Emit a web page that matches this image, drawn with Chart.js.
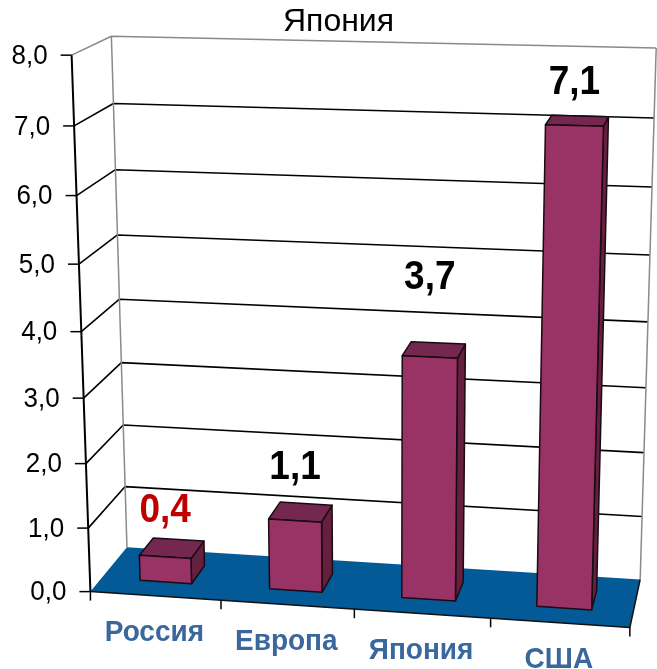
<!DOCTYPE html>
<html>
<head>
<meta charset="utf-8">
<script src="https://cdn.jsdelivr.net/npm/chart.js@4.4.1/dist/chart.umd.min.js"></script>
<style>
  html, body { margin: 0; padding: 0; background: #ffffff; }
  #wrap { width: 657px; height: 669px; position: relative; }
</style>
</head>
<body>
<div id="wrap"><canvas id="chart" width="657" height="669"></canvas></div>
<script>
// ---- data ----
const chartTitle = 'Япония';
const categories = ['Россия', 'Европа', 'Япония', 'США'];
const values = [0.4, 1.1, 3.7, 7.1];
const valueLabels = ['0,4', '1,1', '3,7', '7,1'];
const valueLabelColors = ['#c00000', '#000000', '#000000', '#000000'];
const axisMin = 0;
const axisMax = 8;
const axisStep = 1;

// ---- look ----
const FONT = '"Liberation Sans", Arial, sans-serif';
const faceColors = { front: '#993366', top: '#74284f', side: '#66203f' };
const floorColor = '#035a96';
const categoryColor = '#3a689c';
const barDepth = [0.3, 0.7];          // bar front / back within the floor depth
const labelLift = [46, 53, 79, 43];    // value label distance above the bar's front top edge

// Oblique view of the unit box (X across, Y up, Z into the page) onto the canvas:
// [X, Y, Z, canvasX, canvasY] anchors of the box frame, fitted to one projective camera.
const boxAnchors = [
  [0, 0, 0, 90, 591], [1, 0, 0, 630, 628], [0, 0, 1, 127, 548], [1, 0, 1, 640, 579],
  [0, 1, 0, 72, 55], [0, 1, 1, 112, 36], [1, 1, 1, 656, 48],
  [0, 0.875, 0, 73, 126.5], [0, 0.625, 0, 79, 264], [0, 0.5, 0, 82, 332],
  [0, 0.25, 0, 86, 464], [0, 0.125, 0, 88, 528],
  [0, 0.875, 1, 113, 103], [0, 0.625, 1, 118, 235], [0, 0.375, 1, 121, 363],
  [0.25, 0, 0, 221, 599], [0.75, 0, 0, 491, 619], [1, 0.875, 1, 654, 118]
];

function fitCamera(pts) {
  const rows = [], rhs = [];
  for (const [X, Y, Z, x, y] of pts) {
    rows.push([X, Y, Z, 1, 0, 0, 0, 0, -x * X, -x * Y, -x * Z]); rhs.push(x);
    rows.push([0, 0, 0, 0, X, Y, Z, 1, -y * X, -y * Y, -y * Z]); rhs.push(y);
  }
  const n = 11;
  const M = Array.from({ length: n }, () => new Array(n + 1).fill(0));
  rows.forEach((r, k) => {
    for (let i = 0; i < n; i++) {
      for (let j = 0; j < n; j++) M[i][j] += r[i] * r[j];
      M[i][n] += r[i] * rhs[k];
    }
  });
  for (let c = 0; c < n; c++) {
    let p = c;
    for (let r = c + 1; r < n; r++) if (Math.abs(M[r][c]) > Math.abs(M[p][c])) p = r;
    [M[c], M[p]] = [M[p], M[c]];
    for (let r = 0; r < n; r++) {
      if (r === c) continue;
      const f = M[r][c] / M[c][c];
      for (let j = c; j <= n; j++) M[r][j] -= f * M[c][j];
    }
  }
  return M.map((r, i) => r[n] / r[i]);
}
const cam = fitCamera(boxAnchors);
function project(X, Y, Z) {
  const w = cam[8] * X + cam[9] * Y + cam[10] * Z + 1;
  return [(cam[0] * X + cam[1] * Y + cam[2] * Z + cam[3]) / w,
          (cam[4] * X + cam[5] * Y + cam[6] * Z + cam[7]) / w];
}

function poly(ctx, pts, fill, stroke, lw) {
  ctx.beginPath();
  pts.forEach((p, i) => i ? ctx.lineTo(p[0], p[1]) : ctx.moveTo(p[0], p[1]));
  ctx.closePath();
  if (fill) { ctx.fillStyle = fill; ctx.fill(); }
  if (stroke) { ctx.strokeStyle = stroke; ctx.lineWidth = lw; ctx.stroke(); }
}
function line(ctx, pts, color, lw) {
  ctx.beginPath();
  pts.forEach((p, i) => i ? ctx.lineTo(p[0], p[1]) : ctx.moveTo(p[0], p[1]));
  ctx.strokeStyle = color; ctx.lineWidth = lw; ctx.stroke();
}
// text slightly taller than wide, centred vertically on y
function tallText(ctx, text, x, y, stretch) {
  ctx.save();
  ctx.translate(x, y);
  ctx.scale(1, stretch);
  ctx.fillText(text, 0, 0);
  ctx.restore();
}

const perspectiveBars = {
  id: 'perspectiveBars',
  afterDatasetsDraw(chart) {
    const ctx = chart.ctx;
    const area = chart.chartArea;
    const xs = chart.scales.x, ys = chart.scales.y;
    const nx = px => (px - area.left) / (area.right - area.left);
    const ny = py => (area.bottom - py) / (area.bottom - area.top);
    ctx.save();
    ctx.lineJoin = 'round';
    ctx.lineCap = 'butt';

    // walls: gridlines along the left side wall and across the back wall
    const ticks = ys.ticks.map(t => t.value);
    ticks.forEach(v => {
      const Y = ny(ys.getPixelForValue(v));
      if (v === axisMin) return;
      const top = v === axisMax;
      line(ctx, [project(0, Y, 0), project(0, Y, 1), project(1, Y, 1)],
           top ? '#8a8a8a' : '#000000', top ? 1.5 : 1.6);
    });
    line(ctx, [project(0, 0, 1), project(0, 1, 1)], '#8a8a8a', 1.5);
    line(ctx, [project(1, 0, 1), project(1, 1, 1)], '#8a8a8a', 1.5);

    // floor
    poly(ctx, [project(0, 0, 0), project(1, 0, 0), project(1, 0, 1), project(0, 0, 1)],
         floorColor, null, 0);
    line(ctx, [project(0, 0, 0), project(1, 0, 0), project(1, 0, 1)], '#111111', 1.5);

    // value axis with tick marks and labels
    line(ctx, [project(0, 0, 0), project(0, 1, 0)], '#000000', 2);
    ctx.font = '26px ' + FONT;
    ctx.fillStyle = '#000000';
    ctx.textAlign = 'right';
    ctx.textBaseline = 'middle';
    ticks.forEach(v => {
      const [ax, ay] = project(0, ny(ys.getPixelForValue(v)), 0);
      line(ctx, [[ax - 11, ay], [ax, ay]], '#000000', 1.5);
      tallText(ctx, v.toFixed(1).replace('.', ','), ax - 24, ay + 1, 1.08);
    });

    // category axis: tick marks at category boundaries and labels
    const n = categories.length;
    const step = xs.getPixelForValue(1) - xs.getPixelForValue(0);
    for (let i = 0; i <= n; i++) {
      const edge = xs.getPixelForValue(0) + (i - 0.5) * step;
      const [tx, ty] = project(nx(edge), 0, 0);
      line(ctx, [[tx, ty], [tx, ty + 9]], '#000000', 1.5);
    }
    ctx.font = 'bold 28px ' + FONT;
    ctx.fillStyle = categoryColor;
    ctx.textAlign = 'center';
    categories.forEach((c, i) => {
      const [lx, ly] = project(nx(xs.getPixelForValue(i)), 0, 0);
      tallText(ctx, c, lx - 1, ly + 37, 1.05);
    });

    // bars as boxes: right side, top, front
    const meta = chart.getDatasetMeta(0);
    const [z0, z1] = barDepth;
    meta.data.forEach((bar, i) => {
      const X0 = nx(bar.x - bar.width / 2), X1 = nx(bar.x + bar.width / 2);
      const Yt = ny(bar.y), Yb = ny(bar.base);
      const side = [project(X1, Yb, z0), project(X1, Yb, z1), project(X1, Yt, z1), project(X1, Yt, z0)];
      const top = [project(X0, Yt, z0), project(X1, Yt, z0), project(X1, Yt, z1), project(X0, Yt, z1)];
      const front = [project(X0, Yb, z0), project(X1, Yb, z0), project(X1, Yt, z0), project(X0, Yt, z0)];
      poly(ctx, side, faceColors.side, '#1a0a12', 1.5);
      poly(ctx, top, faceColors.top, '#1a0a12', 1.5);
      poly(ctx, front, faceColors.front, '#1a0a12', 1.5);

      // value label above the bar
      const [fx, fy] = project((X0 + X1) / 2, Yt, z0);
      ctx.font = 'bold 37px ' + FONT;
      ctx.fillStyle = valueLabelColors[i];
      ctx.textAlign = 'center';
      ctx.textBaseline = 'middle';
      tallText(ctx, valueLabels[i], fx, fy - labelLift[i], 1.08);
    });
    ctx.restore();
  }
};

new Chart(document.getElementById('chart'), {
  type: 'bar',
  data: {
    labels: categories,
    datasets: [{
      data: values,
      backgroundColor: 'rgba(0,0,0,0)',
      borderWidth: 0,
      categoryPercentage: 1,
      barPercentage: 0.4
    }]
  },
  options: {
    responsive: false,
    animation: false,
    events: [],
    layout: { padding: { left: 40, right: 20, top: 0, bottom: 40 } },
    scales: {
      x: { display: false, offset: true },
      y: { display: false, min: axisMin, max: axisMax, ticks: { stepSize: axisStep } }
    },
    plugins: {
      legend: { display: false },
      tooltip: { enabled: false },
      title: {
        display: true,
        text: chartTitle,
        color: '#000000',
        font: { family: FONT, size: 32, weight: 'normal' },
        padding: { top: 3, bottom: 10 }
      }
    }
  },
  plugins: [perspectiveBars]
});
</script>
</body>
</html>
